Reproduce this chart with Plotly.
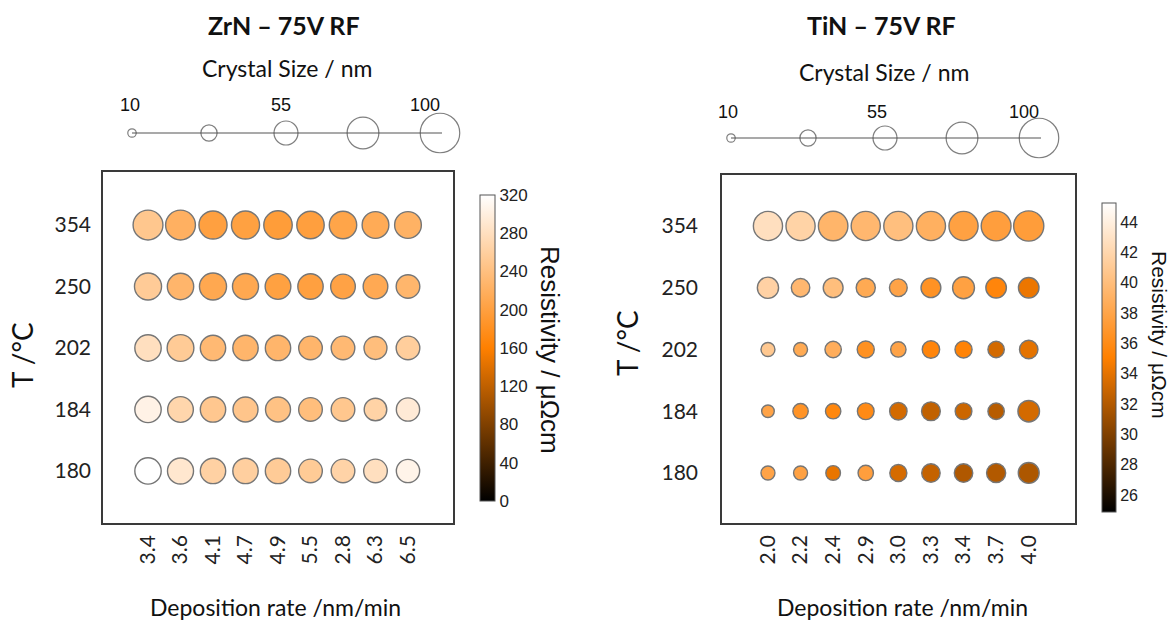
import plotly.graph_objects as go

W, H = 1175, 622

# ---- data -------------------------------------------------------------
temps = ["180", "184", "202", "250", "354"]          # substrate temperature / °C
zrn_rates = ["3.4", "3.6", "4.1", "4.7", "4.9", "5.5", "2.8", "6.3", "6.5"]
tin_rates = ["2.0", "2.2", "2.4", "2.9", "3.0", "3.3", "3.4", "3.7", "4.0"]

# resistivity / µΩcm, one row per temperature (180 ... 354)
zrn_resistivity = [
    [320, 290, 262, 260, 255, 254, 265, 280, 306],
    [304, 268, 250, 247, 243, 238, 249, 264, 294],
    [280, 254, 232, 227, 227, 227, 232, 238, 258],
    [255, 227, 210, 210, 201, 200, 203, 212, 228],
    [249, 221, 200, 201, 196, 199, 206, 214, 223],
]
# crystal size / nm
zrn_crystal = [
    [62, 61, 59, 59, 59, 54, 54, 54, 53],
    [62, 60, 59, 58, 58, 54, 54, 51, 53],
    [62, 63, 59, 59, 59, 54, 54, 52, 54],
    [64, 62, 64, 61, 60, 59, 57, 57, 54],
    [72, 72, 67, 67, 68, 65, 65, 63, 63],
]

tin_resistivity = [
    [37.9, 37.7, 34.2, 37.5, 33.4, 32.7, 31.9, 32.0, 31.8],
    [37.9, 36.6, 35.6, 35.9, 33.3, 32.6, 33.0, 32.2, 33.3],
    [40.8, 38.4, 38.7, 36.4, 37.9, 35.5, 35.3, 33.3, 34.0],
    [41.6, 39.5, 40.0, 38.4, 37.9, 36.5, 37.7, 35.5, 34.3],
    [42.7, 41.7, 39.3, 39.5, 40.1, 38.9, 37.7, 37.5, 37.4],
]
tin_crystal = [
    [26, 26, 28, 30, 35, 39, 39, 41, 46],
    [22, 30, 30, 34, 36, 40, 34, 33, 48],
    [26, 26, 33, 35, 30, 36, 35, 33, 39],
    [47, 39, 43, 41, 37, 43, 49, 45, 45],
    [70, 70, 71, 70, 70, 70, 70, 72, 73],
]

legend_sizes = [10, 32.5, 55, 77.5, 100]
legend_labels = {10: "10", 55: "55", 100: "100"}

zrn_cticks = [0, 40, 80, 120, 160, 200, 240, 280, 320]
tin_cticks = [26, 28, 30, 32, 34, 36, 38, 40, 42, 44]

# ---- styling helpers -------------------------------------------------
SANS = "Lato, 'Noto Sans', sans-serif"
ARIAL = "'Liberation Sans', Arial, sans-serif"
COLORSCALE = [[0.0, "#000000"], [0.5, "#ff8000"], [1.0, "#ffffff"]]


def fx(p):
    return p / W


def fy(p):
    return 1 - p / H


def diam(size):
    """Marker diameter in px for a crystal size in nm."""
    return 5.0 + 0.345 * size


def bubble_trace(res, crystal, xa, ya, cmin, cmax, cbar):
    xs, ys, cs, ss = [], [], [], []
    for j, row in enumerate(res):
        for i, v in enumerate(row):
            xs.append(i)
            ys.append(j)
            cs.append(v)
            ss.append(diam(crystal[j][i]))
    return go.Scatter(
        x=xs, y=ys, xaxis=xa, yaxis=ya, mode="markers",
        marker=dict(size=ss, sizemode="diameter", color=cs, cmin=cmin, cmax=cmax,
                    colorscale=COLORSCALE, showscale=True, colorbar=cbar,
                    line=dict(color="#767676", width=1.4), opacity=1),
        hoverinfo="skip", showlegend=False, cliponaxis=False,
    )


def size_legend(xa, ya):
    line = go.Scatter(x=[legend_sizes[0], 100.6], y=[0, 0], xaxis=xa, yaxis=ya,
                      mode="lines", line=dict(color="#555555", width=1.2),
                      hoverinfo="skip", showlegend=False, cliponaxis=False)
    circles = go.Scatter(x=legend_sizes, y=[0] * len(legend_sizes), xaxis=xa, yaxis=ya,
                         mode="markers",
                         marker=dict(size=[diam(s) for s in legend_sizes], sizemode="diameter",
                                     color="rgba(0,0,0,0)",
                                     line=dict(color="#4a4a4a", width=1.2)),
                         hoverinfo="skip", showlegend=False, cliponaxis=False)
    return [line, circles]


def colorbar(x, top, bottom, thick, ticks, fsize):
    return dict(
        x=fx(x), xanchor="left", xpad=0,
        y=fy((top + bottom) / 2), yanchor="middle", ypad=0,
        len=bottom - top, lenmode="pixels",
        thickness=thick, thicknessmode="pixels",
        outlinecolor="#555555", outlinewidth=1,
        tickvals=ticks, ticks="", ticklen=0,
        tickfont=dict(family=ARIAL, size=fsize, color="#222222"),
        bgcolor="rgba(0,0,0,0)",
    )


fig = go.Figure()

fig.add_trace(bubble_trace(zrn_resistivity, zrn_crystal, "x", "y", 0, 320,
                           colorbar(480, 195, 501, 15, zrn_cticks, 17)))
fig.add_trace(bubble_trace(tin_resistivity, tin_crystal, "x2", "y2", 24.88, 45.25,
                           colorbar(1102, 203, 512, 14, tin_cticks, 16)))
for t in size_legend("x3", "y3") + size_legend("x4", "y4"):
    fig.add_trace(t)

box = dict(showline=True, mirror=True, linecolor="#3a3a3a", linewidth=1.5,
           showgrid=False, zeroline=False, ticks="", fixedrange=True)

fig.update_layout(
    width=W, height=H, margin=dict(l=0, r=0, t=0, b=0),
    paper_bgcolor="white", plot_bgcolor="white",
    xaxis=dict(domain=[fx(103), fx(453)], range=[-1.385, 9.385], anchor="y",
               tickvals=list(range(len(zrn_rates))), ticktext=zrn_rates, tickangle=-90,
               tickfont=dict(family=SANS, size=21, color="#222"), ticklabelstandoff=2, **box),
    yaxis=dict(domain=[fy(523), fy(172)], range=[-0.846, 4.862], anchor="x",
               tickvals=list(range(len(temps))), ticktext=temps,
               tickfont=dict(family=SANS, size=21, color="#222"), ticklabelstandoff=6, **box),
    xaxis2=dict(domain=[fx(722), fx(1075)], range=[-1.41, 9.42], anchor="y2",
                tickvals=list(range(len(tin_rates))), ticktext=tin_rates, tickangle=-90,
                tickfont=dict(family=SANS, size=21, color="#222"), ticklabelstandoff=2, **box),
    yaxis2=dict(domain=[fy(523), fy(175)], range=[-0.81, 4.826], anchor="x2",
                tickvals=list(range(len(temps))), ticktext=temps,
                tickfont=dict(family=SANS, size=21, color="#222"), ticklabelstandoff=18, **box),
    xaxis3=dict(domain=[fx(100), fx(470)], range=[0.649, 108.77], visible=False, anchor="y3"),
    yaxis3=dict(domain=[fy(153), fy(113)], range=[-1, 1], visible=False, anchor="x3"),
    xaxis4=dict(domain=[fx(700), fx(1070)], range=[0.94, 109.06], visible=False, anchor="y4"),
    yaxis4=dict(domain=[fy(158), fy(118)], range=[-1, 1], visible=False, anchor="x4"),
)

ann = []


def text(x, y, s, size, family=SANS, bold=False, angle=0, **kw):
    ann.append(dict(x=x, y=y, text=f"<b>{s}</b>" if bold else s, showarrow=False,
                    textangle=angle, font=dict(family=family, size=size, color="#111111"),
                    xanchor="center", yanchor="middle", **kw))


# panel titles
text(fx(284), fy(25), "ZrN – 75V RF", 25, bold=True, xref="paper", yref="paper")
text(fx(882), fy(25), "TiN – 75V RF", 25, bold=True, xref="paper", yref="paper")
text(fx(287), fy(68), "Crystal Size / nm", 23, xref="paper", yref="paper")
text(fx(884), fy(72), "Crystal Size / nm", 23, xref="paper", yref="paper")

# size-legend labels
shifts_l = {10: -2, 55: -5, 100: -15}
shifts_r = {10: -3, 55: -8, 100: -15}
for v, s in legend_labels.items():
    text(v, fy(105), s, 18, family=ARIAL, xref="x3", yref="paper", xshift=shifts_l[v])
    text(v, fy(112), s, 18, family=ARIAL, xref="x4", yref="paper", xshift=shifts_r[v])

# axis titles
text(fx(22), fy(355), "T /°C", 28, angle=-90, xref="paper", yref="paper")
text(fx(627), fy(343), "T /°C", 28, angle=-90, xref="paper", yref="paper")
text(fx(275), fy(607), "Deposition rate /nm/min", 23, xref="paper", yref="paper")
text(fx(902), fy(607), "Deposition rate /nm/min", 23, xref="paper", yref="paper")

# colour-bar titles
text(fx(550), fy(350), "Resistivity / μΩcm", 26, family=ARIAL, angle=90, xref="paper", yref="paper")
text(fx(1159), fy(335), "Resistivity / μΩcm", 21, family=ARIAL, angle=90, xref="paper", yref="paper")

fig.update_layout(annotations=ann)

fig.write_html("out.html", config=dict(displayModeBar=False))
